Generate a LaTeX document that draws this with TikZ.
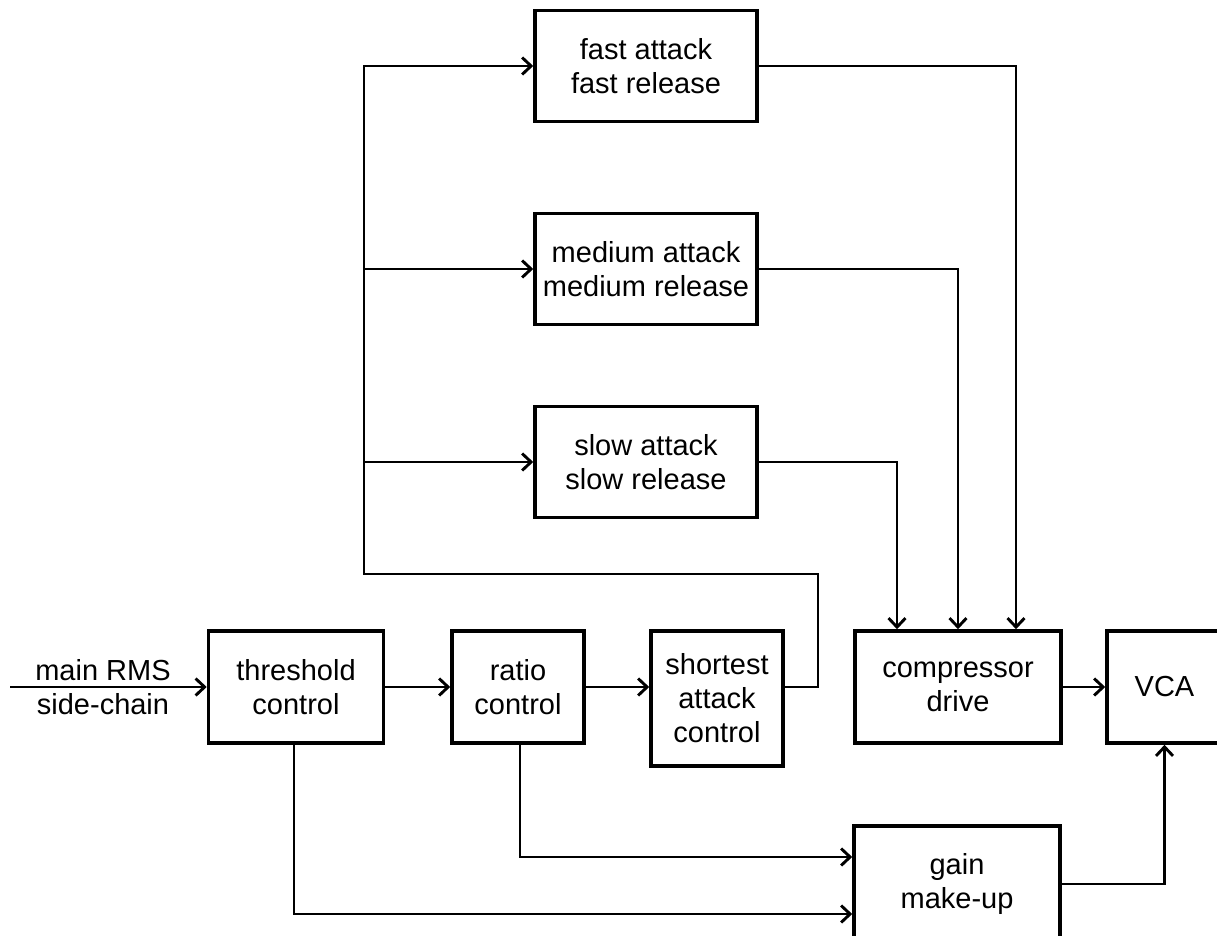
\documentclass[tikz,border=0pt]{standalone}
\usepackage{fontspec}
\setmainfont{Liberation Sans}
\usetikzlibrary{arrows.meta}
\begin{document}
\begin{tikzpicture}[x=1pt,y=-1pt,
  box/.style={draw=black, line width=3.6pt, rectangle, inner sep=0pt, align=center,
    font=\fontsize{29}{34}\selectfont},
  lbl/.style={inner sep=0pt, align=center, font=\fontsize{29}{34}\selectfont},
  conn/.style={line width=2.9pt, draw=black},
  arr/.style={conn, -{Straight Barb[length=9pt,width=17pt,line width=2.9pt]}}]
\useasboundingbox (0,0) rectangle (1217,936);
\node[box, minimum width=175pt, minimum height=112pt] (thr) at (296,687) {threshold\\control};
\node[box, minimum width=132pt, minimum height=112pt] (rat) at (518,687) {ratio\\control};
\node[box, minimum width=132pt, minimum height=135pt] (sho) at (717,698.5) {shortest\\attack\\control};
\node[box, minimum width=206pt, minimum height=112pt] (comp) at (958,687) {compressor\\drive};
\node[box, minimum width=115pt, minimum height=112pt] (vca) at (1164.5,687) {VCA};
\node[box, minimum width=206pt, minimum height=116pt] (gain) at (957,884) {gain\\make-up};
\node[box, minimum width=222pt, minimum height=111pt] (fast) at (646,66) {fast attack\\fast release};
\node[box, minimum width=222pt, minimum height=111pt] (med) at (646,269) {medium attack\\medium release};
\node[box, minimum width=222pt, minimum height=111pt] (slow) at (646,462) {slow attack\\slow release};
\node[lbl] (inlbl) at (103,687) {main RMS\\side-chain};
\coordinate (in) at (10,687);
\coordinate (tr) at (818,574);
\coordinate (tb) at (364,574);
% main chain
\draw[arr] (in) -- (thr.west);
\draw[arr] (thr.east) -- (rat.west);
\draw[arr] (rat.east) -- (rat.east -| sho.west);
\draw[arr] (comp.east) -- (vca.west);
% trunk
\draw[arr] (rat.east -| sho.east) -| (tr) -- (tb) |- (fast.west);
\draw[arr] (tb |- med.west) -- (med.west);
\draw[arr] (tb |- slow.west) -- (slow.west);
% to compressor
\draw[arr] (fast.east) -| ([xshift=58pt]comp.north);
\draw[arr] (med.east) -| (comp.north);
\draw[arr] (slow.east) -| ([xshift=-61pt]comp.north);
% gain make-up
\draw[arr] ([xshift=-2pt]thr.south) |- ([yshift=-30pt]gain.west);
\draw[arr] ([xshift=2pt]rat.south) |- ([yshift=27pt]gain.west);
\draw[arr] (gain.east) -| (vca.south);
\end{tikzpicture}
\end{document}
